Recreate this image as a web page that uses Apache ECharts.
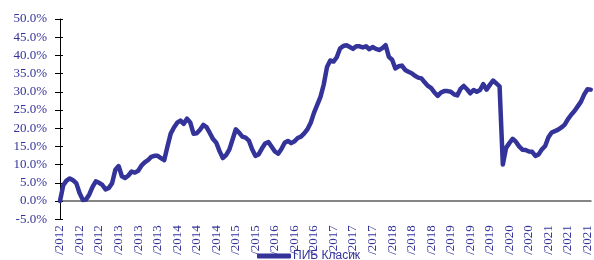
<!DOCTYPE html>
<html>
<head>
<meta charset="utf-8">
<script src="https://cdn.jsdelivr.net/npm/echarts@6/dist/echarts.min.js"></script>
<style>
  html, body { margin: 0; padding: 0; background: #fff; }
  #chart { width: 594px; height: 260px; }
</style>
</head>
<body>
<div id="chart"></div>
<script>
// one label every 6 points
const tickYears = [2012, 2012, 2012, 2013, 2013, 2013, 2014, 2014, 2014, 2015, 2015, 2016, 2016, 2016,
  2017, 2017, 2017, 2018, 2018, 2018, 2019, 2019, 2019, 2020, 2020, 2021, 2021, 2021]
const pointsPerTick = 6

const seriesName = 'ПИБ Класик'
const values = [
  0, 4.3, 5.6, 6.2, 5.7, 4.9, 2.2, 0.3, 0.4, 1.8,
  3.9, 5.4, 5.0, 4.4, 3.2, 3.6, 4.9, 8.6, 9.6, 6.8,
  6.3, 7.0, 8.1, 7.8, 8.3, 9.7, 10.6, 11.2, 12.1, 12.4,
  12.4, 11.8, 11.2, 15.0, 18.5, 20.2, 21.5, 22.1, 21.2, 22.6,
  21.6, 18.5, 18.6, 19.6, 20.9, 20.3, 18.7, 17.0, 16.0, 13.7,
  11.8, 12.6, 14.1, 16.9, 19.7, 18.8, 17.7, 17.4, 16.6, 14.2,
  12.4, 12.8, 14.4, 15.8, 16.2, 14.9, 13.6, 13.0, 14.3, 16.0,
  16.5, 15.9, 16.4, 17.3, 17.7, 18.6, 19.7, 21.5, 24.2, 26.4,
  28.6, 32.0, 36.8, 38.6, 38.3, 39.5, 41.9, 42.6, 42.8, 42.3,
  41.8, 42.5, 42.5, 42.2, 42.5, 41.7, 42.3, 41.8, 41.5, 42.0,
  42.8, 39.6, 38.8, 36.4, 37.0, 37.2, 36.0, 35.5, 35.1, 34.4,
  33.9, 33.7, 32.6, 31.6, 31.0, 29.8, 28.9, 29.8, 30.2, 30.2,
  30.0, 29.3, 29.0, 30.8, 31.6, 30.7, 29.6, 30.5, 30.0, 30.5,
  32.1, 30.6, 31.9, 33.1, 32.3, 31.5, 10.0, 14.6, 15.9, 17.1,
  16.3, 15.0, 14.1, 14.0, 13.6, 13.5, 12.4, 12.8, 14.2, 15.1,
  17.5, 18.8, 19.2, 19.6, 20.2, 21.0, 22.5, 23.7, 24.7, 26.0,
  27.3, 29.3, 30.7, 30.6
]

const categories = values.map((v, i) => String(i))

const navy = '#333399'
const serif = '"Liberation Serif", "Times New Roman", serif'

const chart = echarts.init(document.getElementById('chart'), null, {renderer: 'canvas'})

chart.setOption({
  animation: false,
  grid: {left: 60, top: 19, width: 533.3, height: 200.2, containLabel: false},
  legend: {
    data: [seriesName],
    left: 252,
    top: 245,
    icon: 'roundRect',
    itemWidth: 34,
    itemHeight: 5,
    textStyle: {fontFamily: '"Liberation Sans", Arial, sans-serif', fontSize: 12, color: navy, padding: [0, 0, 0, -3]}
  },
  xAxis: {
    type: 'category',
    data: categories,
    boundaryGap: false,
    axisLine: {onZero: true, lineStyle: {color: '#858585', width: 2}},
    axisTick: {show: false},
    axisLabel: {
      interval: pointsPerTick - 1,
      rotate: 90,
      margin: 6,
      fontFamily: serif,
      fontSize: 13,
      color: navy,
      formatter: (val, idx) => '/' + tickYears[Math.round(idx / pointsPerTick)]
    },
    splitLine: {show: false}
  },
  yAxis: [
    {
      type: 'value',
      min: -5,
      max: 50,
      interval: 5,
      axisLine: {show: true, lineStyle: {color: '#000', width: 1}},
      axisTick: {show: true, length: 5, lineStyle: {color: '#000'}},
      axisLabel: {
        margin: 13,
        fontFamily: serif,
        fontSize: 13,
        color: navy,
        formatter: v => v.toFixed(1) + '%'
      },
      splitLine: {show: false}
    },
    {
      type: 'value',
      position: 'left',
      min: -5,
      max: 50,
      interval: 5,
      axisLine: {show: false},
      axisTick: {show: true, inside: true, length: 3, lineStyle: {color: '#000'}},
      axisLabel: {show: false},
      splitLine: {show: false}
    }
  ],
  series: [{
    name: seriesName,
    type: 'line',
    yAxisIndex: 0,
    data: values,
    symbol: 'none',
    color: navy,
    lineStyle: {color: navy, width: 4.5, join: 'round', cap: 'round'}
  }]
})

window.addEventListener('resize', () => {
  chart.resize()
})
</script>
</body>
</html>
